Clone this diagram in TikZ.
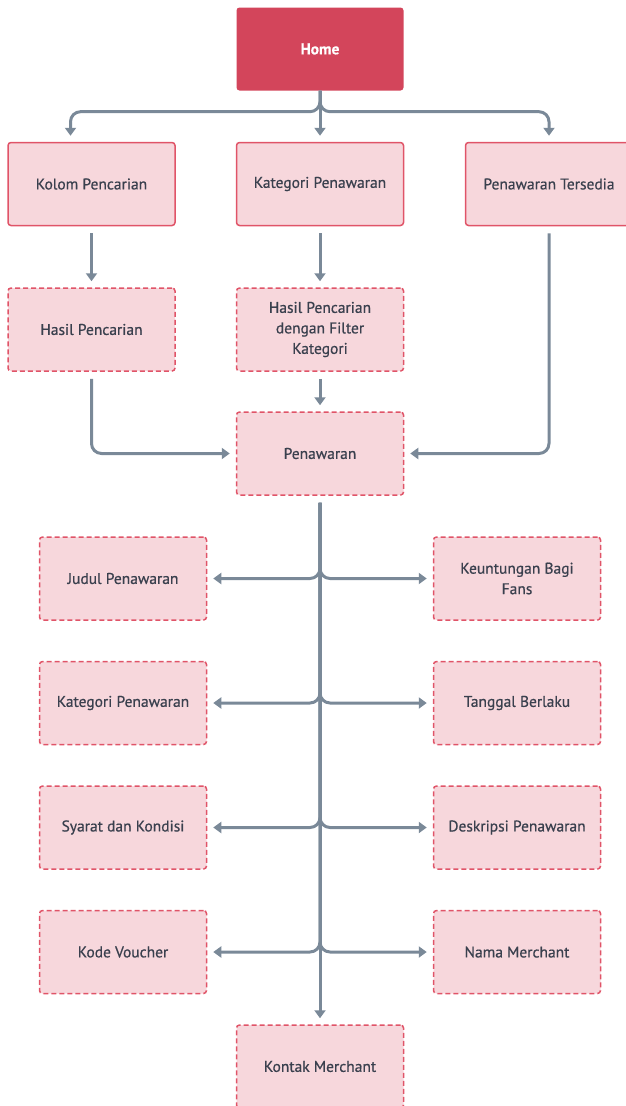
\documentclass[tikz,border=0pt]{standalone}
\usepackage{fontspec}
\setmainfont{PT Sans}[FakeBold=0.5]
\newfontfamily\labelfont{PT Sans}[FakeBold=0.6]
\usetikzlibrary{arrows.meta,calc}

\definecolor{linegray}{RGB}{122,137,152}
\definecolor{homered}{RGB}{211,69,91}
\definecolor{boxpink}{RGB}{247,215,220}
\definecolor{boxedge}{RGB}{224,84,104}
\definecolor{textdark}{RGB}{58,64,78}

\tikzset{
  box/.style={rectangle, rounded corners=3pt, minimum width=167pt, minimum height=83pt,
    inner sep=2pt, align=center, text=textdark, fill=boxpink,
    font=\labelfont\fontsize{15.5}{20.5}\selectfont},
  solidbox/.style={box, draw=boxedge, line width=1.5pt},
  dashbox/.style={box, draw=boxedge, line width=1.5pt, dash pattern=on 5pt off 3pt},
  homebox/.style={box, fill=homered, draw=none, text=white,
    font=\fontsize{15.5}{20.5}\selectfont\bfseries},
  conn/.style={draw=linegray, line width=3pt, rounded corners=10pt,
    -{Triangle[width=11pt,length=8pt]}, shorten >=6pt, shorten <=7pt},
}

\begin{document}
\begin{tikzpicture}[x=1pt,y=-1pt]
\useasboundingbox (0,0) rectangle (626,1106);

% top level
\node[homebox] (home) at (320,49) {Home};

% first row
\node[solidbox] (kolom)    at (91.5,184)  {Kolom Pencarian};
\node[solidbox] (kat)      at (320,184)   {Kategori Penawaran};
\node[solidbox] (tersedia) at (549,184)   {Penawaran Tersedia};

% search results
\node[dashbox] (hasil)  at (91.5,329.5) {Hasil Pencarian};
\node[dashbox] (filter) at (320,329.5)  {Hasil Pencarian\\dengan Filter\\Kategori};

% offer page
\node[dashbox] (pen) at (320,453.5) {Penawaran};

% offer details
\node[dashbox] (judul)  at (123,578.5)   {Judul Penawaran};
\node[dashbox] (untung) at (517,578.5)   {Keuntungan Bagi\\Fans};
\node[dashbox] (kategori) at (123,703)   {Kategori Penawaran};
\node[dashbox] (tanggal)  at (517,703)   {Tanggal Berlaku};
\node[dashbox] (syarat)   at (123,827.5) {Syarat dan Kondisi};
\node[dashbox] (deskripsi) at (517,827.5) {Deskripsi Penawaran};
\node[dashbox] (kode)     at (123,952)   {Kode Voucher};
\node[dashbox] (nama)     at (517,952)   {Nama Merchant};
\node[dashbox] (kontak)   at (320,1066.5) {Kontak Merchant};

% home fan-out
\draw[conn, shorten <=0pt] (home.south) -- ++(0,21) -| ($(kolom.north)+(-21,0)$);
\draw[conn, shorten <=0pt] (home.south) -- ++(0,21) -| (tersedia.north);
\draw[conn, shorten <=0pt] (home.south) -- (kat.north);

% into results
\draw[conn] (kolom.south) -- (hasil.north);
\draw[conn] (kat.south) -- (filter.north);

% into offer page
\draw[conn] (hasil.south) |- (pen.west);
\draw[conn] (filter.south) -- (pen.north);
\draw[conn] (tersedia.south) |- (pen.east);

% spine with detail branches
\draw[conn] (pen.south) -- (kontak.north);
\foreach \n in {judul,untung,kategori,tanggal,syarat,deskripsi,kode,nama}
  \draw[conn] (pen.south) |- (\n);
\end{tikzpicture}
\end{document}
